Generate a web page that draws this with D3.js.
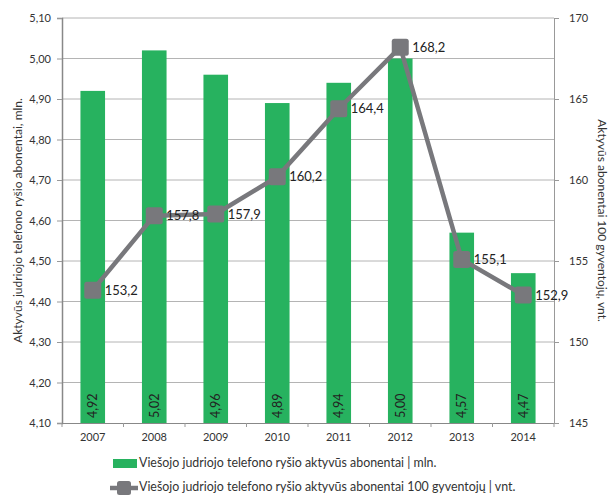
<!DOCTYPE html>
<html>
<head>
<meta charset="utf-8">
<script src="https://cdn.jsdelivr.net/npm/d3@7"></script>
<style>
  body { margin: 0; background: #fff; }
  text { font-family: Lato, "Open Sans", sans-serif; fill: #333; }
</style>
</head>
<body>
<div id="chart"></div>
<script>
// data
var years = ['2007', '2008', '2009', '2010', '2011', '2012', '2013', '2014'];
var subscribers = [4.92, 5.02, 4.96, 4.89, 4.94, 5.00, 4.57, 4.47];
var per100 = [153.2, 157.8, 157.9, 160.2, 164.4, 168.2, 155.1, 152.9];
var leftTicks = [4.10, 4.20, 4.30, 4.40, 4.50, 4.60, 4.70, 4.80, 4.90, 5.00, 5.10];
var rightTicks = [145, 150, 155, 160, 165, 170];
var barLabel = 'Viešojo judriojo telefono ryšio aktyvūs abonentai | mln.';
var lineLabel = 'Viešojo judriojo telefono ryšio aktyvūs abonentai 100 gyventojų | vnt.';
var leftTitle = 'Aktyvūs judriojo telefono ryšio abonentai, mln.';
var rightTitle = 'Aktyvūs abonentai 100 gyventojų, vnt.';

var width = 612, height = 495;
var margin = {top: 18, right: 58, bottom: 72, left: 62};
var drawWidth = width - margin.left - margin.right;
var drawHeight = height - margin.top - margin.bottom;

var green = '#27b25f', grey = '#78787c';
var comma = function(f) { return function(v) { return d3.format(f)(v).replace('.', ','); }; };

var svg = d3.select('#chart').append('svg')
    .attr('width', width)
    .attr('height', height);

var g = svg.append('g')
    .attr('transform', 'translate(' + margin.left + ',' + margin.top + ')');

var xScale = d3.scaleBand().domain(years).range([0, drawWidth]).paddingInner(0.6).paddingOuter(0.3);
var yLeft = d3.scaleLinear().domain([4.1, 5.1]).range([drawHeight, 0]);
var yRight = d3.scaleLinear().domain([145, 170]).range([drawHeight, 0]);

// gridlines
g.selectAll('.grid').data(leftTicks.slice(1))
  .enter().append('line')
    .attr('x1', 0).attr('x2', drawWidth)
    .attr('y1', function(d) { return yLeft(d); })
    .attr('y2', function(d) { return yLeft(d); })
    .attr('stroke', '#b4b4b4').attr('stroke-width', 1);

// bars
g.selectAll('.bar').data(subscribers)
  .enter().append('rect')
    .attr('x', function(d, i) { return xScale(years[i]); })
    .attr('y', function(d) { return yLeft(d); })
    .attr('width', xScale.bandwidth())
    .attr('height', function(d) { return drawHeight - yLeft(d); })
    .attr('fill', green);

// bar value labels
g.selectAll('.barText').data(subscribers)
  .enter().append('text')
    .attr('transform', function(d, i) {
      return 'translate(' + (xScale(years[i]) + xScale.bandwidth() / 2 + 4.5) + ',' + (drawHeight - 5) + ') rotate(-90)';
    })
    .style('font-size', '12.5px')
    .style('fill', '#222')
    .text(function(d) { return comma('.2f')(d); });

// axes
var xAxis = d3.axisBottom(xScale).tickSize(0).tickPadding(10);
var gx = g.append('g').attr('transform', 'translate(0,' + drawHeight + ')').call(xAxis);
gx.select('.domain').attr('stroke', '#888');
gx.selectAll('text').style('font-size', '11px').style('font-family', 'Lato, sans-serif').attr('fill', '#333');
// ticks between categories
var step = xScale.step();
g.selectAll('.xtick').data(d3.range(years.length + 1))
  .enter().append('line')
    .attr('x1', function(d) { return d * step; })
    .attr('x2', function(d) { return d * step; })
    .attr('y1', drawHeight).attr('y2', drawHeight + 4)
    .attr('stroke', '#999');

var yAxisL = d3.axisLeft(yLeft).tickValues(leftTicks).tickFormat(comma('.2f')).tickSize(5).tickPadding(6);
var gl = g.append('g').call(yAxisL);
gl.select('.domain').attr('stroke', '#888').attr('stroke-width', 1.5);
gl.selectAll('.tick line').attr('stroke', '#999');
gl.selectAll('text').style('font-size', '11px').style('font-family', 'Lato, sans-serif').attr('fill', '#333');

var yAxisR = d3.axisRight(yRight).tickValues(rightTicks).tickSize(5).tickPadding(10);
var gr = g.append('g').attr('transform', 'translate(' + drawWidth + ',0)').call(yAxisR);
gr.select('.domain').attr('stroke', '#999');
gr.selectAll('.tick line').attr('stroke', '#999');
gr.selectAll('text').style('font-size', '11px').style('font-family', 'Lato, sans-serif').attr('fill', '#333');

// axis titles
svg.append('text')
  .attr('transform', 'translate(22,' + (margin.top + drawHeight / 2) + ') rotate(-90)')
  .attr('text-anchor', 'middle')
  .style('font-size', '12px')
  .text(leftTitle);

svg.append('text')
  .attr('transform', 'translate(598,' + (margin.top + drawHeight / 2) + ') rotate(90)')
  .attr('text-anchor', 'middle')
  .style('font-size', '12px')
  .text(rightTitle);

// line series
var cx = function(i) { return xScale(years[i]) + xScale.bandwidth() / 2; };
var line = d3.line()
    .x(function(d, i) { return cx(i); })
    .y(function(d) { return yRight(d); });

g.append('path')
  .attr('d', line(per100))
  .attr('fill', 'none')
  .attr('stroke', grey)
  .attr('stroke-width', 4.5)
  .attr('stroke-linejoin', 'round');

g.selectAll('.marker').data(per100)
  .enter().append('rect')
    .attr('x', function(d, i) { return cx(i) - 8.5; })
    .attr('y', function(d) { return yRight(d) - 8.5; })
    .attr('width', 17).attr('height', 17)
    .attr('rx', 2.5)
    .attr('fill', grey);

g.selectAll('.lineText').data(per100)
  .enter().append('text')
    .attr('x', function(d, i) { return cx(i) + 12; })
    .attr('y', function(d) { return yRight(d) + 4.5; })
    .style('font-size', '13px')
    .style('fill', '#222')
    .text(function(d) { return comma('.1f')(d); });

// legend
var lg = svg.append('g');
lg.append('rect')
  .attr('x', 113).attr('y', 459).attr('width', 24).attr('height', 9)
  .attr('fill', green);
lg.append('text')
  .attr('x', 139).attr('y', 467)
  .style('font-size', '12.4px')
  .text(barLabel);

lg.append('line')
  .attr('x1', 110).attr('x2', 138).attr('y1', 488).attr('y2', 488)
  .attr('stroke', grey).attr('stroke-width', 4.5);
lg.append('rect')
  .attr('x', 117).attr('y', 481).attr('width', 14).attr('height', 14)
  .attr('rx', 2.5).attr('fill', grey);
lg.append('text')
  .attr('x', 139).attr('y', 491)
  .style('font-size', '12.4px')
  .text(lineLabel);
</script>
</body>
</html>
